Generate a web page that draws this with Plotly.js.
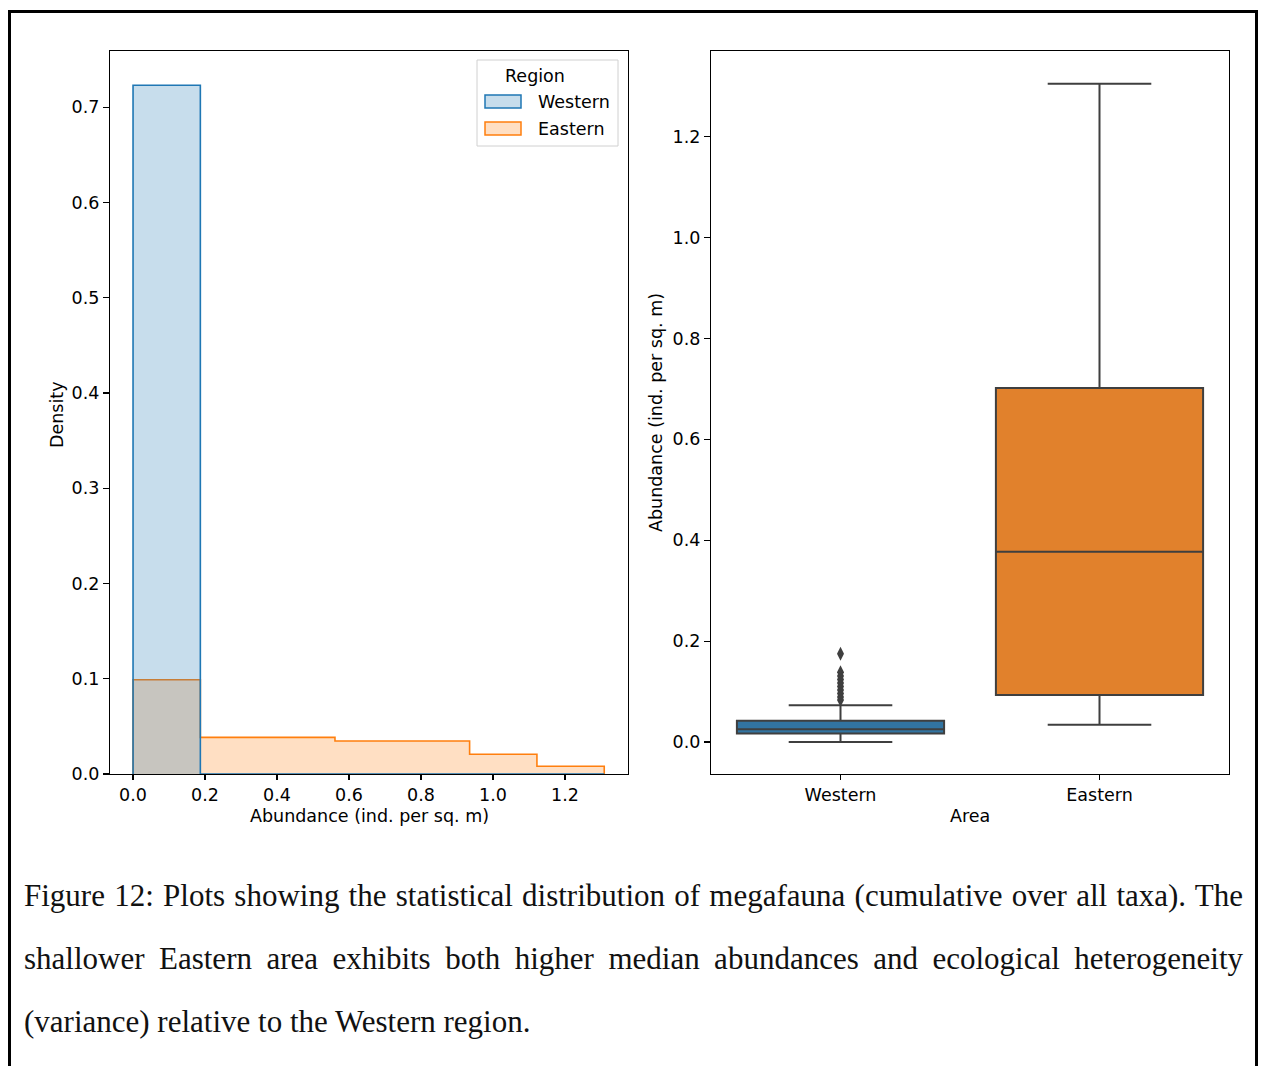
<!DOCTYPE html>
<html>
<head>
<meta charset="utf-8">
<script src="https://cdn.plot.ly/plotly-3.0.1.min.js"></script>
<style>
  html, body { margin: 0; padding: 0; background: #ffffff; }
  #page { position: relative; width: 1265px; height: 1066px; overflow: hidden; }
  #chart { position: absolute; left: 0; top: 0; width: 1265px; height: 1066px; }
  #frame { position: absolute; left: 8px; top: 10px; width: 1250px; height: 1100px;
           border: 3px solid #000; box-sizing: border-box; pointer-events: none; }
  .cap { position: absolute; left: 24px; width: 1219px; font-family: "Liberation Serif", "DejaVu Serif", serif;
         font-size: 31px; color: #111; white-space: nowrap; line-height: 36px; }
  .just { text-align: justify; text-align-last: justify; }
</style>
</head>
<body>
<div id="page">
  <div id="chart"></div>
  <div id="frame"></div>
  <div class="cap just" style="top:878px;">Figure 12: Plots showing the statistical distribution of megafauna (cumulative over all taxa). The</div>
  <div class="cap just" style="top:941px;">shallower Eastern area exhibits both higher median abundances and ecological heterogeneity</div>
  <div class="cap" style="top:1004px;">(variance) relative to the Western region.</div>
</div>
<script>
// Histogram: shared bin edges and density per region
const binEdges = [0, 0.187, 0.374, 0.561, 0.748, 0.935, 1.122, 1.309];
const westernDensity = [0.723, 0, 0, 0, 0, 0, 0];
const easternDensity = [0.099, 0.0385, 0.0385, 0.0346, 0.0346, 0.0207, 0.0081];
const regions = ['Western', 'Eastern'];

// Box plot summary statistics (ind. per sq. m)
const areas = ['Western', 'Eastern'];
const q1 = [0.017, 0.093];
const median = [0.025, 0.377];
const q3 = [0.042, 0.702];
const lowerWhisker = [0.0, 0.034];
const upperWhisker = [0.073, 1.305];
const westernOutliers = [0.175, 0.138, 0.131, 0.124, 0.117, 0.110, 0.103, 0.096, 0.089, 0.083];

const histTicks = [0, 0.2, 0.4, 0.6, 0.8, 1.0, 1.2];
const densityTicks = [0, 0.1, 0.2, 0.3, 0.4, 0.5, 0.6, 0.7];
const abundanceTicks = [0, 0.2, 0.4, 0.6, 0.8, 1.0, 1.2];

const W = 1265, H = 1066;
const px = x => x / W;
const py = y => 1 - y / H;

const FONT = 'DejaVu Sans, sans-serif';
const FS = 17.5;

// Step outline (seaborn "step" element): rise at first edge, fall at last
function stepXY(edges, vals) {
  const x = [edges[0]].concat(edges);
  const y = [0].concat(vals, [0]);
  return { x, y };
}

const eStep = stepXY(binEdges, easternDensity);
const wStep = stepXY(binEdges, westernDensity);

const traces = [
  {
    type: 'scatter', mode: 'lines', x: eStep.x, y: eStep.y,
    line: { shape: 'hv', color: '#ff7f0e', width: 1.6 },
    fill: 'tozeroy', fillcolor: 'rgba(255,127,14,0.25)',
    xaxis: 'x', yaxis: 'y', showlegend: false, name: regions[1]
  },
  {
    type: 'scatter', mode: 'lines', x: wStep.x, y: wStep.y,
    line: { shape: 'hv', color: '#1f77b4', width: 1.6 },
    fill: 'tozeroy', fillcolor: 'rgba(31,119,180,0.25)',
    xaxis: 'x', yaxis: 'y', showlegend: false, name: regions[0]
  }
];

const boxColors = ['#3274a1', '#e1812c'];
areas.forEach((a, i) => {
  traces.push({
    type: 'box', name: a, x: [a],
    q1: [q1[i]], median: [median[i]], q3: [q3[i]],
    lowerfence: [lowerWhisker[i]], upperfence: [upperWhisker[i]],
    width: 0.8, whiskerwidth: 0.5, boxpoints: false,
    fillcolor: boxColors[i], line: { color: '#3f3f3f', width: 2 },
    xaxis: 'x2', yaxis: 'y2', showlegend: false, hoverinfo: 'y'
  });
});
traces.push({
  type: 'scatter', mode: 'markers', x: westernOutliers.map(() => areas[0]), y: westernOutliers,
  marker: { symbol: 'diamond-tall', size: 10, color: '#3f3f3f' },
  xaxis: 'x2', yaxis: 'y2', showlegend: false
});

const axisBase = {
  showline: true, mirror: true, linecolor: '#000', linewidth: 1.1,
  ticks: 'outside', ticklen: 6, tickwidth: 1.1, tickcolor: '#000',
  showgrid: false, zeroline: false, automargin: false,
  tickfont: { family: FONT, size: FS, color: '#000' }
};

const txt = (x, y, text, extra) => Object.assign({
  xref: 'paper', yref: 'paper', x: px(x), y: py(y), text, showarrow: false,
  xanchor: 'center', yanchor: 'middle', font: { family: FONT, size: FS, color: '#000' }
}, extra || {});

// Legend drawn as a framed box with patches
const shapes = [
  { type: 'rect', xref: 'paper', yref: 'paper', x0: px(477), x1: px(618), y0: py(146), y1: py(60),
    line: { color: '#d0d0d0', width: 1 }, fillcolor: 'rgba(255,255,255,0.8)' },
  { type: 'rect', xref: 'paper', yref: 'paper', x0: px(485), x1: px(521), y0: py(108), y1: py(95),
    line: { color: '#1f77b4', width: 1.5 }, fillcolor: 'rgba(31,119,180,0.25)' },
  { type: 'rect', xref: 'paper', yref: 'paper', x0: px(485), x1: px(521), y0: py(135), y1: py(122),
    line: { color: '#ff7f0e', width: 1.5 }, fillcolor: 'rgba(255,127,14,0.25)' }
];
const annotations = [
  txt(535, 76, 'Region'),
  txt(536, 102, regions[0], { xanchor: 'left' }),
  txt(536, 129, regions[1], { xanchor: 'left' }),
  // axis titles
  txt(369, 816, 'Abundance (ind. per sq. m)'),
  txt(57, 414, 'Density', { textangle: -90 }),
  txt(970, 816, 'Area'),
  txt(656, 413, 'Abundance (ind. per sq. m)', { textangle: -90 })
];

const layout = {
  width: W, height: H,
  margin: { l: 0, r: 0, t: 0, b: 0 },
  paper_bgcolor: '#fff', plot_bgcolor: '#fff',
  showlegend: false,
  boxmode: 'overlay',
  xaxis: Object.assign({}, axisBase, {
    domain: [px(110), px(628)], anchor: 'y', range: [-0.064, 1.375], ticklen: 5,
    tickvals: histTicks, ticktext: histTicks.map(v => v.toFixed(1))
  }),
  yaxis: Object.assign({}, axisBase, {
    domain: [py(774), py(51)], anchor: 'x', range: [0, 0.759],
    tickvals: densityTicks, ticktext: densityTicks.map(v => v.toFixed(1))
  }),
  xaxis2: Object.assign({}, axisBase, {
    domain: [px(711), px(1229)], anchor: 'y2', type: 'category', ticklen: 5,
    categoryorder: 'array', categoryarray: areas, range: [-0.5, 1.5]
  }),
  yaxis2: Object.assign({}, axisBase, {
    domain: [py(774), py(51)], anchor: 'x2', range: [-0.0635, 1.370],
    tickvals: abundanceTicks, ticktext: abundanceTicks.map(v => v.toFixed(1))
  }),
  shapes, annotations
};

Plotly.newPlot('chart', traces, layout, { displayModeBar: false, staticPlot: true });
</script>
</body>
</html>
